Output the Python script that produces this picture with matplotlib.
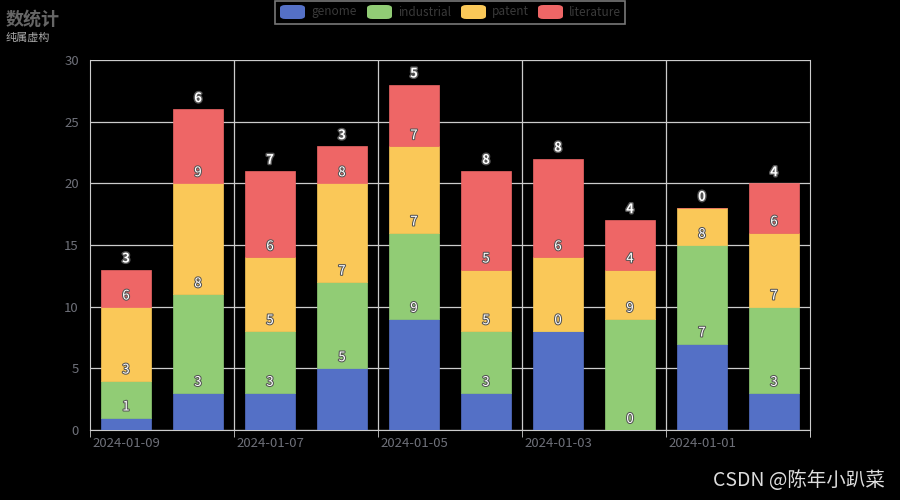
import numpy as np
import matplotlib
matplotlib.use("Agg")
import matplotlib.pyplot as plt
import matplotlib.patheffects as pe
from matplotlib.patches import FancyBboxPatch, Rectangle

plt.rcParams["font.family"] = ["Noto Sans CJK SC", "DejaVu Sans"]

dates = ["2024-01-09", "2024-01-08", "2024-01-07", "2024-01-06", "2024-01-05",
         "2024-01-04", "2024-01-03", "2024-01-02", "2024-01-01", "2023-12-31"]
genome = [1, 3, 3, 5, 9, 3, 8, 0, 7, 3]
industrial = [3, 8, 5, 7, 7, 5, 0, 9, 8, 7]
patent = [6, 9, 6, 8, 7, 5, 6, 4, 3, 6]
literature = [3, 6, 7, 3, 5, 8, 8, 4, 0, 4]

series_names = ["genome", "industrial", "patent", "literature"]
series = [genome, industrial, patent, literature]
colors = ["#5470c6", "#91cc75", "#fac858", "#ee6666"]

fig = plt.figure(figsize=(9, 5), dpi=100, facecolor="black")
ax = fig.add_axes([0.1, 0.14, 0.8, 0.74], facecolor="black")

x = np.arange(len(dates))
bottom = np.zeros(len(dates))
for k, (name, vals, c) in enumerate(zip(series_names, series, colors)):
    vals = np.array(vals)
    ax.bar(x, vals, 0.69, bottom=bottom, color=c, edgecolor=c, linewidth=0.5,
           zorder=3, label=name)
    top = bottom + vals
    is_top = k == len(series) - 1
    stroke = [pe.withStroke(linewidth=2 if is_top else 1.5, foreground="#555555")]
    for i in range(len(x)):
        # a label hides when the next segment sits on the same spot
        if k + 1 < len(series) and series[k + 1][i] == 0:
            continue
        ax.annotate(str(vals[i]), (x[i], top[i]), xytext=(0, 3),
                    textcoords="offset points", ha="center", va="bottom",
                    color="white", fontsize=9.5,
                    fontweight="bold" if is_top else "normal",
                    path_effects=stroke, zorder=5)
    bottom = top

ax.set_xlim(-0.5, len(dates) - 0.5)
ax.set_ylim(0, 30)
ax.set_yticks(np.arange(0, 31, 5))
ax.grid(axis="y", color="#cccccc", linewidth=0.9, zorder=0)
for b in np.arange(1.5, len(dates) - 1, 2):
    ax.axvline(b, color="#cccccc", linewidth=0.9, zorder=0)

ax.set_xticks(x[::2])
ax.set_xticklabels(dates[::2])
ax.set_xticks(np.arange(-0.5, len(dates), 2).tolist() + [len(dates) - 0.5], minor=True)
ax.tick_params(axis="x", which="major", length=0, pad=5, colors="#6e7079", labelsize=9.5)
ax.tick_params(axis="x", which="minor", length=5, color="#cccccc")
ax.tick_params(axis="y", length=0, pad=8, colors="#6e7079", labelsize=9.5)

ax.spines["top"].set_visible(False)
for side in ["left", "right", "bottom"]:
    ax.spines[side].set_color("#cccccc")

# title
fig.text(0.006, 0.98, "数统计", color="#666666", fontsize=13, fontweight="bold",
         ha="left", va="top")
fig.text(0.006, 0.935, "纯属虚构", color="#aaaaaa", fontsize=8, ha="left", va="top")

# legend
fig.patches.append(Rectangle((275 / 900, 1 - 24 / 500), 350 / 900, 23 / 500,
                             transform=fig.transFigure, fill=False,
                             edgecolor="#777777", linewidth=1.2))
lx = [280, 367, 461, 538]
for pos, name, c in zip(lx, series_names, colors):
    fig.patches.append(FancyBboxPatch((pos / 900, 1 - 19 / 500), 25 / 900, 14 / 500,
                                      boxstyle="round,pad=0,rounding_size=0.006",
                                      transform=fig.transFigure, facecolor=c,
                                      edgecolor="none"))
    fig.text((pos + 31) / 900, 1 - 12 / 500, name, color="#3a3a3a", fontsize=8.5,
             ha="left", va="center")

fig.text(0.983, 0.038, "CSDN @陈年小趴菜", color="#dddddd", fontsize=14,
         ha="right", va="center")

fig.savefig("out.png", dpi=100, facecolor="black")
